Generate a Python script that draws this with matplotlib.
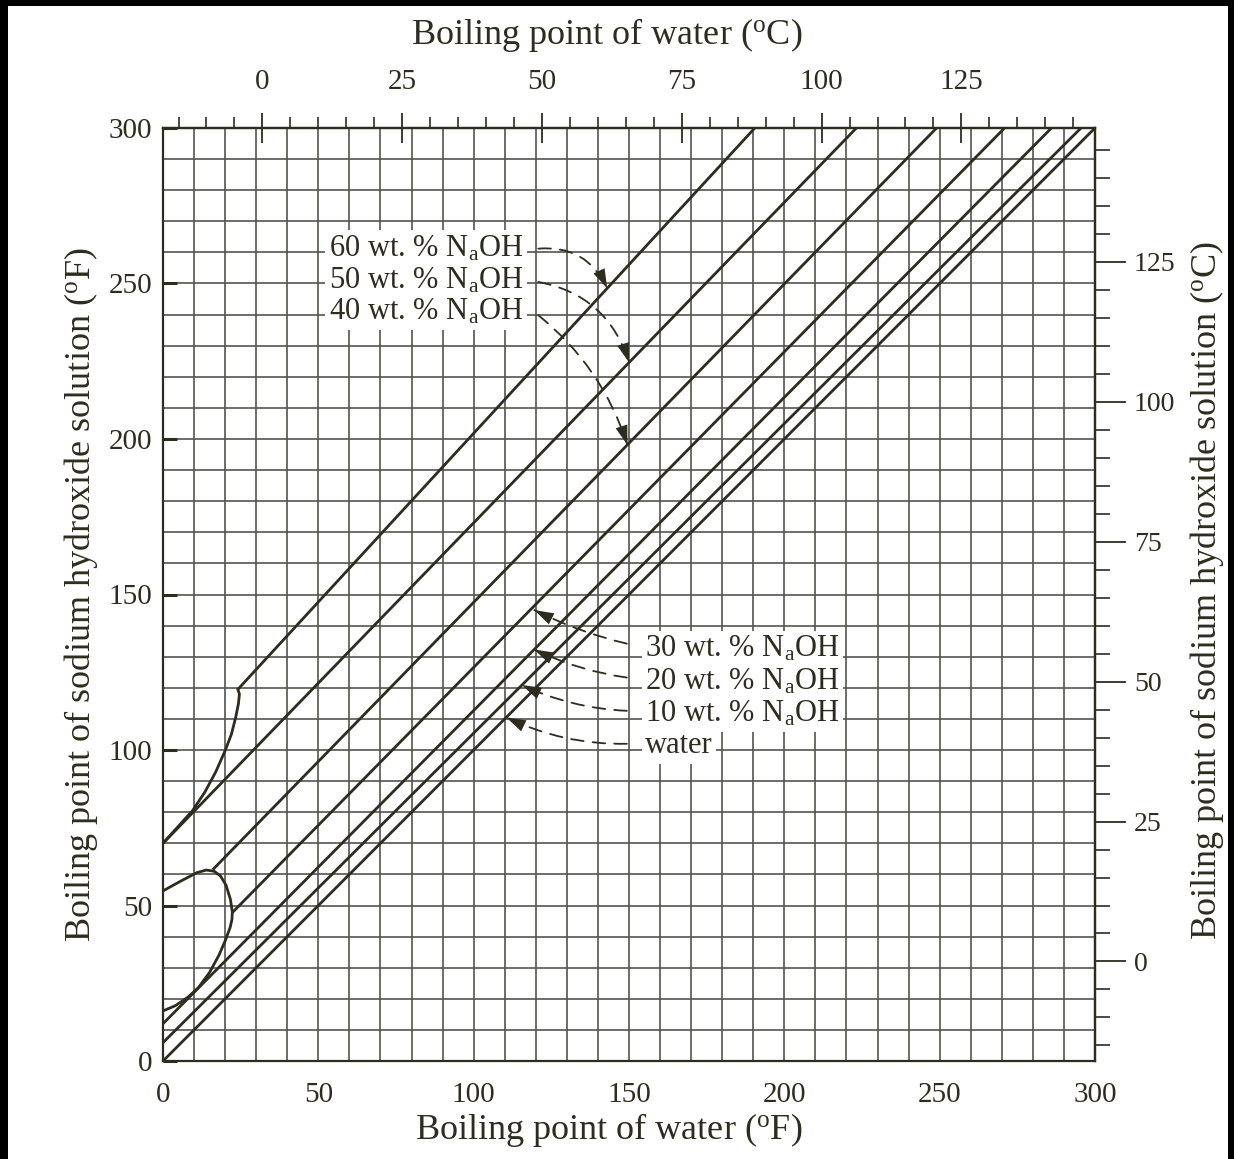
import numpy as np
import matplotlib
matplotlib.use('Agg')
import matplotlib.pyplot as plt
from matplotlib.patches import Rectangle

plt.rcParams['font.family'] = ['Liberation Serif', 'DejaVu Serif']
plt.rcParams['mathtext.fontset'] = 'custom'
plt.rcParams['mathtext.rm'] = 'Liberation Serif'
plt.rcParams['mathtext.it'] = 'Liberation Serif:italic'
plt.rcParams['mathtext.bf'] = 'Liberation Serif:bold'

INK = '#2e2c1e'
GRID = '#55554f'

# Duhring lines, end points (deg F): water bp -> solution bp
line_names = ['60 wt. %', '50 wt. %', '40 wt. %', '30 wt. %', '20 wt. %', '10 wt. %', 'water']
line_x0 = [24.1, 0.0, 16.0, 22.3, 0.0, 0.0, 0.0]
line_y0 = [119.5, 70.0, 61.5, 47.7, 12.0, 5.9, 0.0]
line_x1 = [190.5, 223.2, 249.0, 270.9, 286.0, 295.5, 300.0]
line_y1 = [300.0, 300.0, 300.0, 300.0, 300.0, 300.0, 300.0]

# solid-phase boundary curves in the lower left corner
curve_a_x = [0.0, 4.5, 9.5, 13.5, 17.0, 20.0, 22.0, 23.4, 24.3, 24.6, 24.1]
curve_a_y = [70.0, 75.0, 80.5, 86.5, 93.0, 99.8, 105.0, 110.5, 115.0, 118.0, 119.5]
curve_b_x = [0.0, 6.0, 11.0, 14.0, 16.5, 18.5, 20.3, 21.7, 22.3, 22.2, 21.6,
             20.0, 18.0, 15.0, 11.4, 8.0, 4.0, 0.0]
curve_b_y = [54.7, 58.0, 60.6, 61.4, 61.0, 59.5, 56.5, 52.0, 48.0, 45.5, 42.9,
             38.6, 34.0, 28.5, 23.6, 20.5, 17.8, 16.1]

# callout labels
sub = 'N$_\\mathrm{a}$OH'
upper_labels = ['60 wt. % ' + sub, '50 wt. % ' + sub, '40 wt. % ' + sub]
upper_text_x = [53.3, 53.3, 53.3]
upper_text_y = [261.3, 251.0, 240.8]
upper_tail = [(120.8, 261.2), (120.8, 250.5), (120.8, 239.8)]
upper_tip = [(143.0, 248.4), (150.0, 224.6), (149.5, 198.1)]
upper_rad = [-0.35, -0.3, -0.15]

lower_labels = ['30 wt. % ' + sub, '20 wt. % ' + sub, '10 wt. % ' + sub, 'water']
lower_text_x = [155.3, 155.3, 155.3, 155.3]
lower_text_y = [132.6, 122.0, 111.7, 101.4]
lower_tail = [(149.3, 134.2), (149.3, 123.3), (149.3, 112.6), (149.3, 102.0)]
lower_tip = [(119.5, 145.0), (119.5, 132.3), (115.5, 120.9), (110.5, 110.5)]
lower_rad = [-0.06, -0.08, -0.1, -0.12]

f_ticks = [0, 50, 100, 150, 200, 250, 300]
c_ticks = [0, 25, 50, 75, 100, 125]


def f2c(f):
    return (np.asarray(f) - 32.0) * 5.0 / 9.0


def c2f(c):
    return np.asarray(c) * 9.0 / 5.0 + 32.0


def callout(ax, text, tx, ty, tail, tip, rad):
    ax.text(tx, ty, text, ha='left', va='center', fontsize=22, color=INK,
            bbox=dict(fc='white', ec='none', pad=2.5), zorder=5)
    ax.annotate('', xy=tip, xytext=tail,
                arrowprops=dict(arrowstyle='-', lw=1.3, color=INK, linestyle=(0, (7, 5)),
                                connectionstyle='arc3,rad=%s' % rad,
                                shrinkA=0, shrinkB=0), zorder=6)
    # solid head along the end tangent of the arc
    mx, my = (tail[0] + tip[0]) / 2, (tail[1] + tip[1]) / 2
    dx, dy = tip[0] - tail[0], tip[1] - tail[1]
    cx, cy = mx + rad * dy, my - rad * dx
    ux, uy = tip[0] - cx, tip[1] - cy
    n = np.hypot(ux, uy)
    start = (tip[0] - ux / n * 8, tip[1] - uy / n * 8)
    ax.annotate('', xy=tip, xytext=start,
                arrowprops=dict(arrowstyle='-|>,head_length=0.7,head_width=0.22',
                                lw=0, color=INK, mutation_scale=20,
                                shrinkA=0, shrinkB=0), zorder=7)


fig = plt.figure(figsize=(12.34, 11.59), dpi=100)
fig.patch.set_facecolor('black')
fig.add_artist(Rectangle((8 / 1234, 0), (1228 - 8) / 1234, (1159 - 6) / 1159,
                         transform=fig.transFigure, fc='white', ec='none', zorder=-10))

ax = fig.add_axes([163 / 1234, (1159 - 1061) / 1159, 932 / 1234, 933 / 1159])
ax.set_facecolor('white')
ax.set_xlim(0, 300)
ax.set_ylim(0, 300)

for x0, y0, x1, y1 in zip(line_x0, line_y0, line_x1, line_y1):
    ax.plot([x0, x1], [y0, y1], color=INK, lw=2.0, solid_capstyle='butt', zorder=3)
ax.plot(curve_a_x, curve_a_y, color=INK, lw=2.0, zorder=3)
ax.plot(curve_b_x, curve_b_y, color=INK, lw=2.0, zorder=3)

for t, x, y, tl, tp, r in zip(upper_labels, upper_text_x, upper_text_y, upper_tail, upper_tip, upper_rad):
    callout(ax, t, x, y, tl, tp, r)
for t, x, y, tl, tp, r in zip(lower_labels, lower_text_x, lower_text_y, lower_tail, lower_tip, lower_rad):
    callout(ax, t, x, y, tl, tp, r)

# graph-paper grid every 10 deg F
ax.set_xticks(f_ticks)
ax.set_yticks(f_ticks)
ax.set_xticks(np.arange(0, 301, 10), minor=True)
ax.set_yticks(np.arange(0, 301, 10), minor=True)
ax.grid(which='both', color=GRID, lw=1.2, zorder=1)
ax.set_axisbelow(True)
ax.tick_params(axis='x', which='both', length=0, pad=15, labelsize=21, labelcolor=INK)
ax.tick_params(axis='y', which='major', direction='in', length=10, width=2.2,
               color=INK, pad=8, labelsize=21, labelcolor=INK)
ax.tick_params(axis='y', which='minor', length=0)
for s in ax.spines.values():
    s.set_color(INK)
    s.set_linewidth(1.6)

top = ax.secondary_xaxis('top', functions=(f2c, c2f))
top.set_xticks(c_ticks)
top.set_xticks(np.arange(-15, 150, 5), minor=True)
top.tick_params(which='major', direction='inout', length=22, width=1.3, color=INK,
                pad=13, labelsize=21, labelcolor=INK)
top.tick_params(which='minor', direction='out', length=8, width=1.2, color=INK)
top.spines['top'].set_color(INK)
top.spines['top'].set_linewidth(1.6)

right = ax.secondary_yaxis('right', functions=(f2c, c2f))
right.set_yticks(c_ticks)
right.set_yticks(np.arange(-15, 150, 5), minor=True)
right.tick_params(which='major', direction='out', length=22, width=1.3, color=INK,
                  pad=6, labelsize=20, labelcolor=INK)
right.tick_params(which='minor', direction='out', length=11, width=1.2, color=INK)
right.spines['right'].set_color(INK)
right.spines['right'].set_linewidth(1.6)

deg = '$^\\mathrm{o}$'
fig.text(0.492, 0.970, 'Boiling point of water (' + deg + 'C)', ha='center', va='center',
         fontsize=26, color=INK)
fig.text(0.493, 0.025, 'Boiling point of water (' + deg + 'F)', ha='center', va='center',
         fontsize=26, color=INK)
fig.text(0.066, 0.487, 'Boiling point of sodium hydroxide solution (' + deg + 'F)',
         ha='center', va='center', rotation=90, fontsize=26, color=INK)
fig.text(0.978, 0.490, 'Boiling point of sodium hydroxide solution (' + deg + 'C)',
         ha='center', va='center', rotation=90, fontsize=26, color=INK)

fig.savefig('out.png', dpi=100, facecolor=fig.get_facecolor())
